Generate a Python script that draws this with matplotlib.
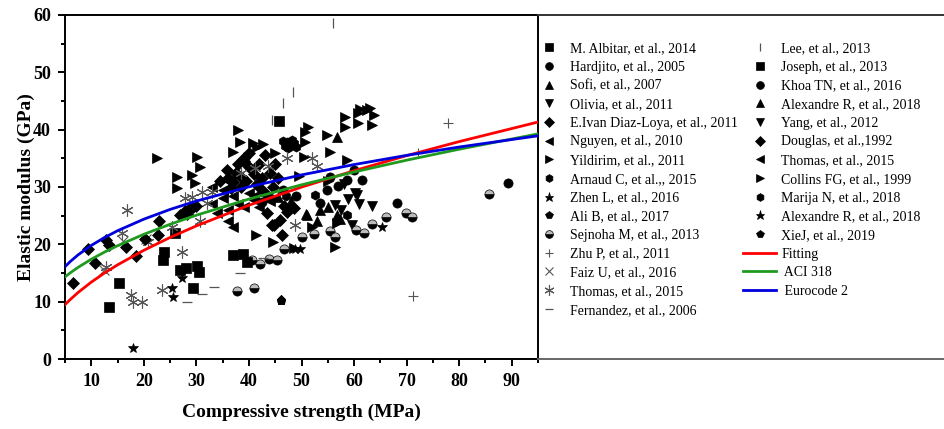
import matplotlib
matplotlib.use("Agg")
import matplotlib.pyplot as plt
from matplotlib.lines import Line2D

plt.rcParams['font.family'] = ['Liberation Serif', 'DejaVu Serif']

# ---------------- data ----------------
albitar_x = [13.3, 15.3, 23.6, 23.9, 26.0, 26.8, 28.0, 29.4, 30.2, 30.5]
albitar_y = [9.1, 13.3, 17.3, 18.7, 22.0, 15.5, 15.9, 12.4, 16.2, 15.2]
hardjito_x = [46.5, 49.0, 54.9, 55.5, 58.7, 59.9, 57.0, 53.5, 44.0, 42.5]
hardjito_y = [29.5, 28.5, 29.5, 31.8, 31.2, 33.0, 30.2, 27.2, 28.0, 27.3]
sofi_x = [51.0, 53.6, 55.0, 56.8, 57.3, 48.0, 45.5]
sofi_y = [25.1, 26.0, 26.5, 25.1, 24.5, 27.5, 28.2]
olivia_x = [56.4, 58.9, 60.2, 60.6, 57.6, 59.7]
olivia_y = [26.9, 27.9, 29.0, 28.6, 26.0, 23.3]
diaz_x = [43.5, 44.7, 46.6, 48.5, 46.0, 46.3, 47.2, 44.4, 35.9, 37.0, 38.5, 40.0, 36.5, 41.0, 39.0, 34.5, 42.0,
          36.0, 37.5, 38.5, 39.5, 41.5, 42.5, 43.0, 44.5, 45.5, 39.0, 40.0, 38.0, 42.0, 43.0, 45.0, 44.0]
diaz_y = [25.5, 23.4, 26.6, 26.3, 24.2, 21.6, 25.6, 23.4, 33.0, 30.9, 31.8, 33.5, 29.8, 32.2, 34.5, 31.0, 30.0,
          31.5, 32.5, 30.0, 31.0, 30.5, 31.5, 29.0, 30.0, 31.5, 35.0, 36.0, 34.0, 34.0, 35.5, 34.0, 32.5]
nguyen_x = [33.0, 35.0, 36.0, 38.0, 40.0, 41.0, 42.0, 44.0, 36.0, 39.0, 35.0, 37.0, 33.0]
nguyen_y = [30.0, 28.0, 31.0, 27.0, 29.0, 28.5, 26.5, 27.5, 26.0, 26.5, 29.5, 28.5, 27.0]
yildirim_x = [22.5, 26.3, 26.3, 29.2, 30.1, 30.7, 29.8, 38.0, 38.3, 37.0, 40.8, 42.7, 45.0, 41.5, 41.4, 44.6, 48.5, 56.4]
yildirim_y = [35.1, 31.8, 29.8, 32.1, 35.3, 33.5, 30.7, 40.0, 37.9, 36.1, 37.7, 37.5, 36.0, 37.0, 21.6, 20.4, 19.4, 19.6]
arnaud_x = [47.3, 47.8, 48.2, 46.8, 48.6, 47.5, 46.5, 48.9]
arnaud_y = [37.9, 37.3, 38.2, 37.2, 37.6, 36.8, 38.0, 37.0]
zhen_x = [18.0, 25.4, 25.6, 27.3]
zhen_y = [1.9, 12.4, 10.9, 14.1]
alib_x = [46.1]
alib_y = [10.3]
sejnoha_x = [37.8, 41.0, 40.6, 42.1, 43.9, 45.3, 46.7, 50.1, 52.4, 55.5, 56.4, 60.4, 61.8, 63.5, 66.1, 69.8, 71.1, 85.6]
sejnoha_y = [11.9, 12.4, 17.3, 16.6, 17.4, 17.3, 19.2, 21.3, 21.8, 22.3, 21.3, 22.5, 22.0, 23.5, 24.8, 25.4, 24.8, 28.8]
zhu_x = [77.9, 72.2, 71.3]
zhu_y = [41.2, 35.9, 11.0]
faiz_x = [12.5, 16.0, 20.5]
faiz_y = [15.5, 20.5, 21.0]
thomas_a_x = [16.8, 15.8, 12.8, 17.6, 17.9, 19.6, 23.5, 27.3, 20.8, 25.4, 30.6, 32.0, 27.9, 29.1, 31.1, 33.0, 41.2, 43.7, 47.3, 52.0, 53.0, 48.8, 38.5]
thomas_a_y = [26.0, 22.0, 16.1, 11.2, 10.0, 10.0, 12.0, 18.7, 20.4, 23.1, 24.0, 27.2, 28.1, 28.3, 29.1, 29.1, 33.3, 33.7, 35.1, 35.1, 33.7, 23.4, 32.5]
fernandez_x = [28.2, 31.0, 33.3, 38.3, 42.7]
fernandez_y = [10.0, 11.3, 12.5, 15.0, 17.6]
lee_x = [44.4, 46.5, 48.4, 55.9]
lee_y = [41.7, 44.7, 46.6, 58.6]
joseph_x = [45.8, 36.9, 38.9, 39.7]
joseph_y = [41.5, 18.2, 18.3, 17.0]
khoa_x = [61.6, 68.2, 89.2]
khoa_y = [31.2, 27.2, 30.7]
alexr_x = [56.8, 50.9, 53.0]
alexr_y = [38.7, 25.3, 24.0]
yang_x = [63.5, 58.0, 61.0]
yang_y = [26.6, 30.5, 27.0]
douglas_x = [6.5, 9.4, 10.7, 12.8, 13.4, 16.6, 18.6, 20.2, 22.7, 22.9, 26.9, 27.8, 28.5, 29.3, 30.0, 28.2]
douglas_y = [13.2, 19.2, 16.8, 20.8, 19.9, 19.6, 18.0, 21.0, 21.6, 24.0, 25.1, 25.8, 26.2, 26.5, 26.7, 25.3]
thomas_l_x = [36.0, 37.0, 41.0, 34.0]
thomas_l_y = [24.0, 23.0, 27.8, 25.5]
collins_x = [50.4, 50.7, 51.3, 50.7, 54.9, 55.5, 58.7, 58.3, 60.8, 58.3, 60.8, 62.5, 61.2, 63.1, 63.7, 63.5, 52.0, 56.8, 55.0, 49.5]
collins_y = [35.3, 37.9, 40.5, 39.6, 39.1, 36.1, 34.7, 42.2, 42.9, 40.5, 41.2, 43.5, 43.6, 43.8, 42.6, 40.8, 23.1, 23.7, 31.0, 32.0]
marija_x = [52.6, 58.7, 47.0]
marija_y = [28.6, 25.1, 28.5]
alexr2_x = [65.4, 48.8, 49.8]
alexr2_y = [23.0, 19.2, 19.2]
xiej_x = [46.1]
xiej_y = [10.3]

curve_x = [5, 6, 7.5, 10, 12.5, 15, 20, 25, 30, 40, 50, 60, 70, 80, 95]
fitting_y = [9.48, 10.38, 11.61, 13.41, 14.99, 16.42, 18.96, 21.2, 23.22, 26.82, 29.98, 32.84, 35.47, 37.92, 41.33]
aci_y = [14.32, 15.03, 15.99, 17.40, 18.64, 19.76, 21.75, 23.5, 25.08, 27.90, 30.38, 32.62, 34.68, 36.59, 39.26]
ec2_y = [16.10, 17.00, 18.17, 19.81, 21.18, 22.37, 24.39, 26.09, 27.55, 30.03, 32.11, 33.91, 35.52, 36.97, 38.93]

# ---------------- figure ----------------
W, H = 944, 429
fig = plt.figure(figsize=(W / 100, H / 100), dpi=100)
ax = fig.add_axes([65 / W, 1 - 359 / H, (538 - 65) / W, (359 - 15) / H])

GRAY = '#555555'
ms = 6.6
series = [
    ("M. Albitar, et al., 2014", albitar_x, albitar_y, dict(marker='s')),
    ("Hardjito, et al., 2005", hardjito_x, hardjito_y, dict(marker='o')),
    ("Sofi, et al., 2007", sofi_x, sofi_y, dict(marker='^')),
    ("Olivia, et al., 2011", olivia_x, olivia_y, dict(marker='v')),
    ("E.Ivan Diaz-Loya, et al., 2011", diaz_x, diaz_y, dict(marker='D', markersize=ms * 0.85)),
    ("Nguyen, et al., 2010", nguyen_x, nguyen_y, dict(marker='<')),
    ("Yildirim, et al., 2011", yildirim_x, yildirim_y, dict(marker='>')),
    ("Arnaud C, et al.,, 2015", arnaud_x, arnaud_y, dict(marker='h')),
    ("Zhen L, et al., 2016", zhen_x, zhen_y, dict(marker='*', markersize=ms * 1.2)),
    ("Ali B, et al., 2017", alib_x, alib_y, dict(marker='p')),
    ("Sejnoha M, et al., 2013", sejnoha_x, sejnoha_y,
     dict(marker='o', fillstyle='bottom', markerfacecoloralt='#bbbbbb')),
    ("Zhu P, et al., 2011", zhu_x, zhu_y, dict(marker='+', color=GRAY, markeredgewidth=0.8)),
    ("Faiz U, et al., 2016", faiz_x, faiz_y, dict(marker='x', color=GRAY, markeredgewidth=0.8)),
    ("Thomas, et al., 2015", thomas_a_x, thomas_a_y, dict(marker=(6, 2, 0), color=GRAY, markeredgewidth=0.8, markersize=ms * 1.3)),
    ("Fernandez, et al., 2006", fernandez_x, fernandez_y, dict(marker='_', color=GRAY, markeredgewidth=0.9)),
    ("Lee, et al., 2013", lee_x, lee_y, dict(marker='|', color=GRAY, markeredgewidth=0.9)),
    ("Joseph, et al., 2013", joseph_x, joseph_y, dict(marker='s')),
    ("Khoa TN, et al., 2016", khoa_x, khoa_y, dict(marker='o')),
    ("Alexandre R, et al., 2018", alexr_x, alexr_y, dict(marker='^')),
    ("Yang, et al., 2012", yang_x, yang_y, dict(marker='v')),
    ("Douglas, et al.,1992", douglas_x, douglas_y, dict(marker='D', markersize=ms * 0.85)),
    ("Thomas, et al., 2015", thomas_l_x, thomas_l_y, dict(marker='<')),
    ("Collins FG, et al., 1999", collins_x, collins_y, dict(marker='>')),
    ("Marija N, et al., 2018", marija_x, marija_y, dict(marker='h')),
    ("Alexandre R, et al., 2018", alexr2_x, alexr2_y, dict(marker='*', markersize=ms * 1.2)),
    ("XieJ, et al., 2019", xiej_x, xiej_y, dict(marker='p')),
]

handles = []
for label, xs, ys, kw in series:
    opts = dict(color='black', markersize=ms, linestyle='none', markeredgewidth=0.5)
    opts.update(kw)
    h, = ax.plot(xs, ys, label=label, **opts)
    handles.append(h)

lf, = ax.plot(curve_x, fitting_y, color='#ff0000', lw=2.0, label='Fitting', zorder=5)
la, = ax.plot(curve_x, aci_y, color='#1f9a1f', lw=2.0, label=' ACI 318', zorder=5)
le, = ax.plot(curve_x, ec2_y, color='#0000dd', lw=2.0, label=' Eurocode 2', zorder=5)
handles += [lf, la, le]

ax.set_xlim(5, 95)
ax.set_ylim(0, 60)
ax.set_xticks([10, 20, 30, 40, 50, 60, 70, 80, 90])
ax.set_xticks(list(range(5, 96, 10)), minor=True)
ax.set_yticks([0, 10, 20, 30, 40, 50, 60])
ax.set_yticks([5, 15, 25, 35, 45, 55], minor=True)
ax.tick_params(which='both', direction='out', top=False, right=False, width=1.4)
ax.tick_params(which='major', length=5, labelsize=13, pad=5)
ax.tick_params(which='minor', length=3)
for lab in ax.get_xticklabels() + ax.get_yticklabels():
    lab.set_fontweight('bold')
for sp in ax.spines.values():
    sp.set_linewidth(1.4)

ax.set_xlabel('Compressive strength (MPa)', fontsize=14, fontweight='bold', labelpad=10)
ax.set_ylabel('Elastic modulus (GPa)', fontsize=14, fontweight='bold', labelpad=-1)

leg = fig.legend(handles=handles, loc='upper left', ncol=2,
                 bbox_to_anchor=(532 / W, 1 - 42 / H), frameon=False,
                 fontsize=10, handlelength=2.4, handletextpad=0.35,
                 columnspacing=0.35, labelspacing=0.41, borderpad=0,
                 borderaxespad=0, markerscale=0.85)

# legend panel borders (continuation of the frame to the right)
fig.add_artist(Line2D([538 / W, 1.0], [1 - 15 / H, 1 - 15 / H], color='#333333', lw=1.4))
fig.add_artist(Line2D([538 / W, 1.0], [1 - 359 / H, 1 - 359 / H], color='#666666', lw=1.4))

fig.savefig('out.png', dpi=100)
